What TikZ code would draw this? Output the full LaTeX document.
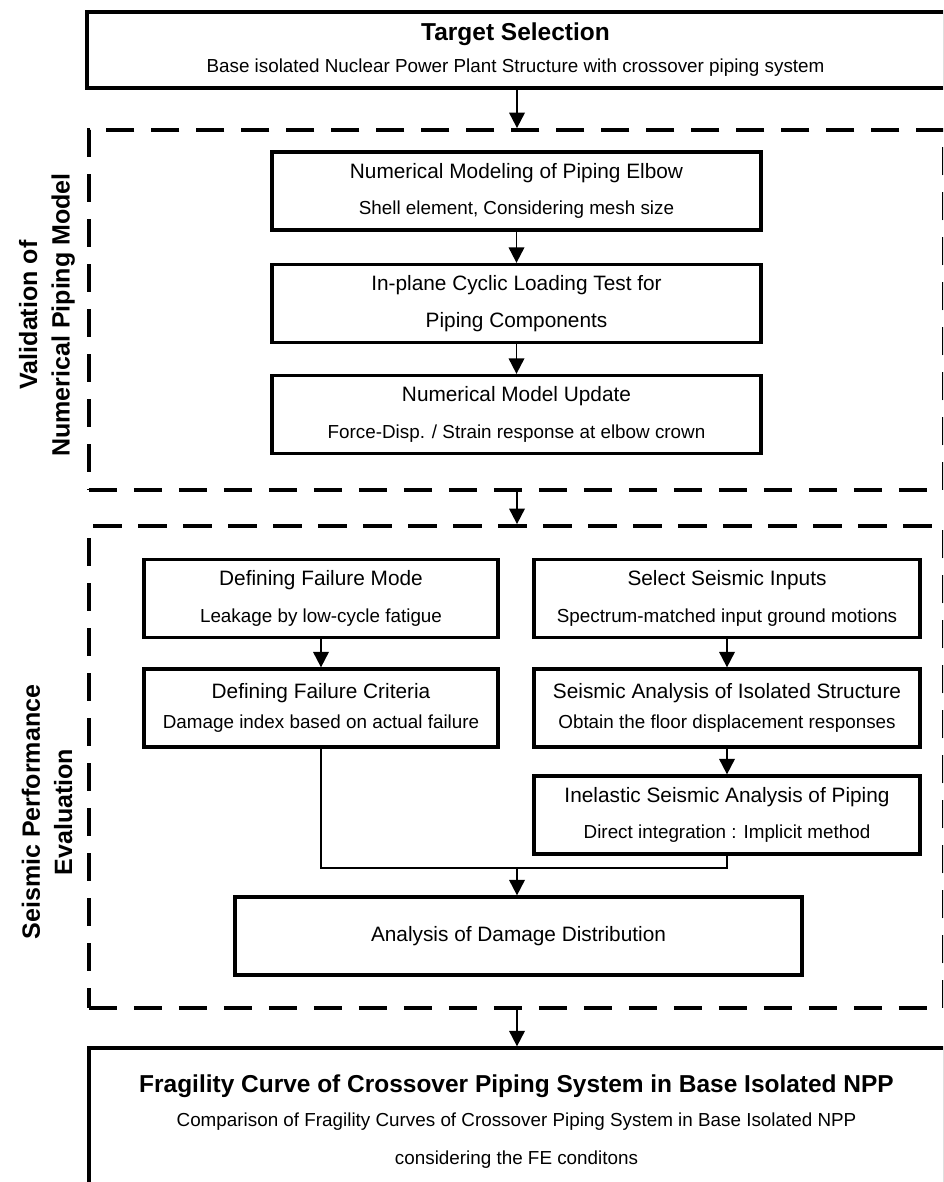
\documentclass[tikz,border=0pt]{standalone}
\usepackage{fontspec}
\setmainfont{Liberation Sans}
\usetikzlibrary{arrows.meta, positioning, calc}

%% font sizes
\newcommand{\fsHead}{\fontsize{17.4pt}{21pt}\selectfont\bfseries}
\newcommand{\fsTitle}{\fontsize{14.8pt}{17.8pt}\selectfont}
\newcommand{\fsSub}{\fontsize{13.4pt}{16pt}\selectfont}
\newcommand{\fsLabel}{\fontsize{17.8pt}{23pt}\selectfont\bfseries}

\tikzset{
  %% process boxes
  pbox/.style={rectangle, draw=black, line width=2.3pt, fill=white,
               align=center, inner sep=2pt, font=\fsTitle},
  pboxM/.style={pbox, minimum width=12.225cm, minimum height=1.95cm},
  pboxL/.style={pbox, minimum width=8.85cm,  minimum height=1.95cm},
  pboxR/.style={pbox, minimum width=9.65cm,  minimum height=1.95cm},
  pboxD/.style={pbox, minimum width=14.175cm, minimum height=1.95cm},
  %% wide head / result boxes
  headbox/.style={pbox, minimum width=21.425cm, minimum height=1.9cm},
  %% dashed group frames
  grpbox/.style={rectangle, draw=black, line width=2.6pt,
                 dash pattern=on 20pt off 12pt, minimum width=21.375cm},
  grplabel/.style={rotate=90, font=\fsLabel, align=center},
  %% arrows
  flowline/.style={line width=1.4pt},
  flowarrow/.style={flowline, -{Triangle[length=11pt, width=11pt]}},
}

\begin{document}
\begin{tikzpicture}[x=0.025cm, y=-0.025cm]

\useasboundingbox (0,0) rectangle (943,1182);
\clip (0,0) rectangle (943,1182);

%% ============================================================
%%  TARGET SELECTION
%% ============================================================
\node[headbox] (target) at (515.5, 50) {%
  {\fsHead Target Selection}\\[5pt]
  {\fsSub Base isolated Nuclear Power Plant Structure with crossover piping system}
};

%% ============================================================
%%  GROUP 1 -- validation of the piping model
%% ============================================================
\node[grpbox, minimum height=9cm] (grp1) at (516.5, 310) {};
\node[grplabel] (lbl1) at (47, 315) {Validation of\\Numerical Piping Model};

\node[pboxM] (model) at (516.5, 191) {%
  Numerical Modeling of Piping Elbow\\[8pt]
  {\fsSub Shell element, Considering mesh size}
};
\node[pboxM] (test) at (516.5, 303.5) {%
  In-plane Cyclic Loading Test for\\[8pt]
  Piping Components
};
\node[pboxM] (update) at (516.5, 414.5) {%
  Numerical Model Update\\[8pt]
  {\fsSub Force-Disp. / Strain response at elbow crown}
};

%% ============================================================
%%  GROUP 2 -- seismic performance evaluation
%% ============================================================
\node[grpbox, minimum height=12.05cm] (grp2) at (516.5, 767) {};
\node[grplabel] (lbl2) at (47, 812) {Seismic Performance\\Evaluation};

\node[pboxL] (fmode) at (321, 598.5) {%
  Defining Failure Mode\\[8pt]
  {\fsSub Leakage by low-cycle fatigue}
};
\node[pboxR] (inputs) at (727, 598.5) {%
  Select Seismic Inputs\\[8pt]
  {\fsSub Spectrum-matched input ground motions}
};
\node[pboxL] (fcrit) at (321, 708) {%
  Defining Failure Criteria\\[4pt]
  {\fsSub Damage index based on actual failure}
};
\node[pboxR] (struct) at (727, 708) {%
  Seismic Analysis of Isolated Structure\\[4pt]
  {\fsSub Obtain the floor displacement responses}
};
\node[pboxR] (piping) at (727, 815) {%
  Inelastic Seismic Analysis of Piping\\[8pt]
  {\fsSub Direct integration : Implicit method}
};
\node[pboxD] (damage) at (518.5, 936) {Analysis of Damage Distribution};

\coordinate (merge) at (517, 868);

%% ============================================================
%%  FRAGILITY CURVE
%% ============================================================
\node[headbox, minimum width=21.375cm, minimum height=3.675cm]
  (fragility) at (516.5, 1121.5) {%
  {\fsHead Fragility Curve of Crossover Piping System in Base Isolated NPP}\\[6pt]
  {\fsSub Comparison of Fragility Curves of Crossover Piping System in Base Isolated NPP}\\[9pt]
  {\fsSub considering the FE conditons}
};

%% ============================================================
%%  Connectors
%% ============================================================
\draw[flowarrow] (target.south -| merge) -- (grp1.north -| merge);
\draw[flowarrow] (model.south) -- (test.north);
\draw[flowarrow] (test.south) -- (update.north);
\draw[flowarrow] (grp1.south -| merge) -- (grp2.north -| merge);

\draw[flowarrow] (fmode.south) -- (fcrit.north);
\draw[flowarrow] (inputs.south) -- (struct.north);
\draw[flowarrow] (struct.south) -- (piping.north);

\draw[flowline] (fcrit.south) |- (merge) -| (piping.south);
\draw[flowarrow] (merge) -- (damage.north -| merge);

\draw[flowarrow] (grp2.south -| merge) -- (fragility.north -| merge);

\end{tikzpicture}
\end{document}
